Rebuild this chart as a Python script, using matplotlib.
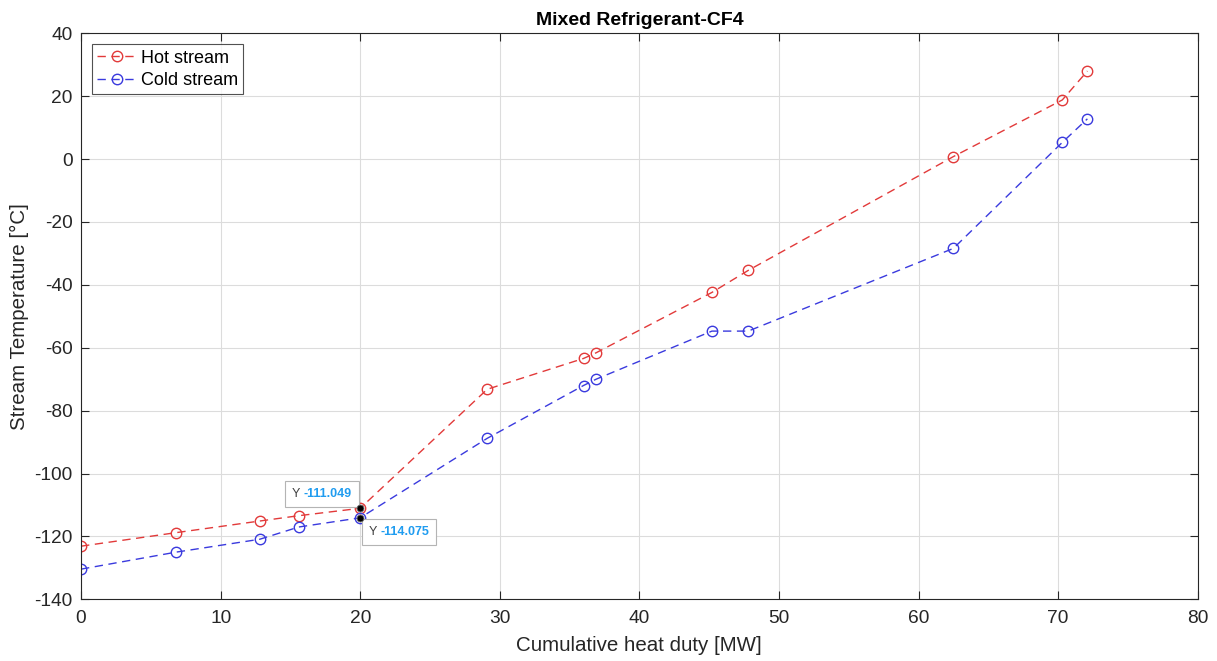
import matplotlib
matplotlib.use('Agg')
import matplotlib.pyplot as plt
from matplotlib.offsetbox import AnnotationBbox, HPacker, TextArea

plt.rcParams['font.family'] = ['Liberation Sans', 'DejaVu Sans']
plt.rcParams['axes.unicode_minus'] = False

# Composite curve data (cumulative duty in MW, temperature in degC)
duty = [0, 6.8, 12.8, 15.6, 20.0, 29.1, 36.0, 36.9, 45.2, 47.8, 62.5, 70.3, 72.1]
hot_temp = [-123.1, -118.8, -115.1, -113.4, -111.049, -73.2, -63.4, -61.6,
            -42.4, -35.4, 0.8, 18.8, 28.0]
cold_temp = [-130.4, -125.0, -120.9, -117.0, -114.075, -88.8, -72.0, -70.0,
             -54.7, -54.7, -28.4, 5.3, 12.8]

pinch_x = 20.0
pinch_hot = -111.049
pinch_cold = -114.075

axis_col = '#262626'

fig = plt.figure(figsize=(12.17, 6.61), dpi=100)
ax = fig.add_axes([0.0666, 0.0933, 0.9175, 0.8563])

ax.plot(duty, hot_temp, '--o', color='#e23a3a', lw=1.0, ms=7.5, mfc='none',
        mew=1.0, dashes=(6, 4), label='Hot stream')
ax.plot(duty, cold_temp, '--o', color='#3a3ade', lw=1.0, ms=7.5, mfc='none',
        mew=1.0, dashes=(6, 4), label='Cold stream')

ax.set_xlim(0, 80)
ax.set_ylim(-140, 40)
ax.set_xticks(range(0, 81, 10))
ax.set_yticks(range(-140, 41, 20))
ax.grid(True, color='#dcdcdc', lw=0.8)
ax.set_axisbelow(True)
ax.tick_params(direction='in', top=True, right=True, length=6, width=0.8,
               colors=axis_col, labelsize=13.8, labelcolor=axis_col)
ax.tick_params(axis='x', pad=8)
ax.tick_params(axis='y', pad=6)
for s in ax.spines.values():
    s.set_color(axis_col)
    s.set_linewidth(0.8)

ax.set_title('Mixed Refrigerant-CF4', fontsize=14, fontweight='bold',
             color='black', pad=6)
ax.set_xlabel('Cumulative heat duty [MW]', fontsize=14.8, color=axis_col, labelpad=6)
ax.set_ylabel('Stream Temperature [°C]', fontsize=14.8, color=axis_col, labelpad=4)

leg = ax.legend(loc='upper left', fontsize=13, frameon=True, fancybox=False,
                borderpad=0.3, handlelength=2.2, handletextpad=0.2,
                labelspacing=0.3, borderaxespad=0.6)
leg.get_frame().set_edgecolor(axis_col)
leg.get_frame().set_linewidth(0.8)

# data tips at the pinch
ax.plot([pinch_x, pinch_x], [pinch_hot, pinch_cold], 'o', color='black',
        mec='#707070', mew=0.6, ms=5, zorder=8)
for val, corner, off in [(pinch_hot, (1, 0), (-1, 1)),
                         (pinch_cold, (0, 1), (1, -1))]:
    label = TextArea('Y ', textprops=dict(fontsize=9, color='#404040'))
    value = TextArea(f'{val:.3f}', textprops=dict(fontsize=9, fontweight='bold',
                                                  color='#1f9cf0'))
    tip = HPacker(children=[label, value], align='baseline', pad=5, sep=0)
    ab = AnnotationBbox(tip, (pinch_x, val), xybox=off, boxcoords='offset points',
                        box_alignment=corner, frameon=True, pad=0.0,
                        bboxprops=dict(boxstyle='square,pad=0', fc='white',
                                       ec='#b4b4b4', lw=0.8), zorder=6)
    ax.add_artist(ab)

fig.savefig('out.png', dpi=100)
